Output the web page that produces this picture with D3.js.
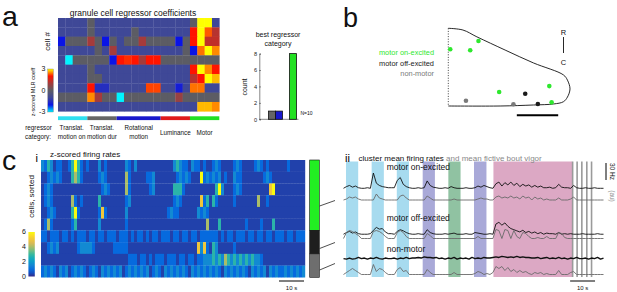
<!DOCTYPE html>
<html>
<head>
<meta charset="utf-8">
<script src="https://cdn.jsdelivr.net/npm/d3@7"></script>
<style>
body { margin: 0; background: #fff; }
svg { display: block; font-family: "Liberation Sans", Arial, sans-serif; }
</style>
</head>
<body>
<svg id="fig" width="617" height="292"></svg>
<script>
// ---------- panel a data ----------
const regCategories = ["Translat. motion on", "Translat. motion dur", "Rotational motion", "Luminance", "Motor"];
const regPerCategory = [4, 4, 6, 4, 4];
const bestCategoryCount = [0, 1, 1, 0, 8];
// z-scored MLR coefficients, one row per cell, 22 regressors
const coefRows = [
  [-1,-1,-1,-1,0,-1,-1,-1,-1,-1,-1,-1,-1,-1,-1,-1,-1,-1,0,3,3,-1],
  [-1,-1,-1,-1,0,-1,-1,-1,-1,-1,0,-1,-1,-1,-1,-1,-1,-1,2,3,2.3,1.2],
  [-2,0,0,0,1,0,-2,0,-1,0,0,1,0,0,0,0,-2,0,2,3,1.3,1.3],
  [-1,-1,-1,-1,-1,0,-1,1,-1,-1,-1,-1,-1,-1,-1,-1,-1,0,-2,2.4,3,2.5],
  [-1,-3,0,0,0,0,0,-2,2,2.1,2,1,2,2,0,0,0,0,0,0,0,0],
  [-1,-1,-1,-1,0,-1,-1,-1,-1,-1,-1,-1,-1,-1,-1,-1,-1,-1,2,3,2.5,2],
  [-1,-1,-1,-1,0,0,-1,-1,-1,-1,-1,-1,-1,-1,-1,-1,-1,-1,1.2,2,3,2.7],
  [-1,-1,-1,-1,2,-1.5,-1.5,-1,-1,-1,-1,-1,2.2,2.2,-1,-1,-1.8,-1,2.4,2.4,-1,-1],
  [0,0,0,0,2.5,1,0,0,-3,0,0,0,0,0,0,0,0.8,0,0,0,0,0],
  [-1,-1,-1,-1,-1,-1,-1,-1,-1,-1,-1,-1,-1,-1,-1,-1,-1,-1,-1,2.7,2.7,2.5]
];

// ---------- panel b data ----------
const clusterNames = ["motor on-excited", "motor off-excited", "non-motor"];
const clusterSizes = [6, 2, 2];
// outline of the cerebellum region (relative units), and cell positions
const outline = [[0,0],[12,2.2],[23.5,11],[46.7,28],[70,44.6],[94.6,60],[97.9,66.7],[100,78],[97.9,88.5],[94.6,94.5],[86.5,97.4],[70,98.7],[42.6,100],[0,100]];
const cellX = [1.6, 18, 24.8, 41.8, 83, 84.9, 63.2, 73.6, 14.5, 53.5];
const cellY = [26.9, 28.2, 16.3, 82, 74.4, 95.3, 84.2, 97.4, 93.2, 97.8];
const cellCluster = [0, 0, 0, 0, 0, 0, 1, 1, 2, 2];
const scaleBarLen = 34;

// ---------- panel c i data: z-scored rates, 1.2 s bins ----------
const binSec = 1.2;
// level code -> z-score
const rateLevels = [0.3, 0.9, 1.6, 2.8, 4, 5, 6];
const rateRows = [
  "21320110 01363101 00020100 00002102 00000000 00002321 10211010 01210000 12100001 21010000 00100000",
  "00121210 00343100 00012100 00004100 00011200 00000121 21000612 12120100 21100000 00121000 00000000",
  "01210000 00000000 00001210 00004100 00001200 00003331 00000000 00362000 12100000 00005600 00000000",
  "01210000 00410100 00030000 00001200 00000000 00001210 00000513 03100000 10000000 40010000 00000000",
  "00121000 00361000 00015100 00002000 00000000 00121100 00002121 00000000 00000000 00000000 00000000",
  "01410000 00130000 00020000 00001000 00000000 00000000 00000004 00030000 00001000 01000300 00000000",
  "11011101 10101110 11011011 10111010 11010110 11101101 10110111 11101011 01110110 11011011 10110111",
  "00121200 00001222 21000000 11111000 00000000 00000000 00005251 03200000 10000000 00000000 00000000",
  "00000000 00000000 00000000 00000111 01101011 10111011 01101122 23232432 32323232 21000000 00000000",
  "12121021 20121210 12102121 21201212 12120121 02121212 10212121 21210212 12121021 21202121 12121212"
];

// ---------- panel c ii data ----------
// firing rates (Hz, base36 chars) and fictive vigor (au) per 1.2 s bin
const onRate   = "36857433 43uc8654 44hma643 3434g854 33436433 34334758 643be7d9 e8c6a795 85744534 a5443843 34334333";
const onVigor  = "01323100 00062100 00045200 00004200 00000100 00000121 10034232 42314230 31201000 20001300 00000000";
const offRate  = "47968544 45bgde85 549ca754 4544c754 44545644 45447654 454mpkoi eca8b796 85746554 74545444 54444544";
const offVigor = "06875300 00787520 00686200 00005300 00000000 00000200 00098098 08206520 01002000 65100000 00000000";
const nonRate  = "65756867 57686576 67576867 78798878 67576857 67586768 77898a98 98a89887 78678676 86757686 67576857";
const nonVigor = "02464200 00a36520 00573400 00005200 00000200 00001320 10286847 35242310 21201000 40002300 00000000";
// stimulus epochs (s)
const epochStart = [1.6, 11.9, 22.0, 32.4, 42.7, 53.0];
const epochEnd   = [6.5, 16.8, 26.9, 37.3, 47.6, 58.0];
const epochType  = ["trans", "trans", "trans", "rot", "lum", "rot"];
const blockStart = 60.8, blockEnd = 92.4;
const flashTimes = [92.6, 94.4, 96.3, 98.3, 100.2];

const parse = s => s.replace(/ /g, "").split("").map(c => parseInt(c, 36));

const svg = d3.select("#fig");
const FONT = "Liberation Sans, Arial, sans-serif";

function label(x, y, txt, size, opts = {}) {
  const t = svg.append("text")
    .attr("x", x).attr("y", y)
    .attr("font-size", size)
    .attr("fill", opts.fill || "#111")
    .attr("text-anchor", opts.anchor || "start")
    .text(txt);
  if (opts.rotate) t.attr("transform", `rotate(${opts.rotate},${x},${y})`);
  return t;
}

const defs = svg.append("defs");

// ============ panel a ============
label(2, 26, "a", 28.5);
label(133, 16, "granule cell regressor coefficients", 8.5, {anchor: "middle"});
label(49.5, 41.5, "cell #", 8, {anchor: "middle", rotate: -90});

const nReg = d3.sum(regPerCategory);
const ax = d3.scaleBand().domain(d3.range(nReg)).range([58, 219.3]);
const ay = d3.scaleBand().domain(d3.range(coefRows.length)).range([18, 111.3]);
const coefColor = d3.scaleLinear()
  .domain([-3, -2, -1, 0, 1, 2, 3])
  .range(["#00f4ff", "#0a14e6", "#3f4897", "#5c5c64", "#a53b3b", "#ff1400", "#ffff00"]);

svg.append("g")
  .selectAll("g")
  .data(coefRows)
  .join("g")
  .each(function (row, r) {
    d3.select(this).selectAll("rect")
      .data(row)
      .join("rect")
        .attr("x", (d, i) => ax(i))
        .attr("y", ay(r))
        .attr("width", ax.bandwidth() + 0.3)
        .attr("height", ay.bandwidth() + 0.3)
        .attr("fill", d => coefColor(d));
  });

// category bar under heatmap
const catColors = ["#2ee0f0", "#666666", "#1818cc", "#e01a1a", "#22e022"];
const catStart = d3.cumsum([0, ...regPerCategory]);
svg.append("g")
  .selectAll("rect")
  .data(regCategories)
  .join("rect")
    .attr("x", (d, i) => ax(catStart[i]))
    .attr("y", 116.3)
    .attr("width", (d, i) => ax.step() * regPerCategory[i])
    .attr("height", 3.8)
    .attr("fill", (d, i) => catColors[i]);

const catLabelLines = [["Translat.", "motion on"], ["Translat.", "motion dur"], ["Rotational", "motion"], ["Luminance"], ["Motor"]];
catLabelLines.forEach((lines, i) => {
  const cx = ax(catStart[i]) + ax.step() * regPerCategory[i] / 2 + (i === 0 ? -1 : 0);
  lines.forEach((ln, k) => {
    const y = lines.length === 1 ? 134.5 : 130 + k * 8.6;
    label(cx, y, ln, 6.3, {anchor: "middle"});
  });
});
label(38.5, 130, "regressor", 6.3, {anchor: "middle"});
label(38, 138.6, "category:", 6.3, {anchor: "middle"});

// colorbar a
const gradA = defs.append("linearGradient").attr("id", "gradA")
  .attr("x1", 0).attr("y1", 1).attr("x2", 0).attr("y2", 0);
d3.range(-3, 3.01, 0.25).forEach(v => {
  gradA.append("stop").attr("offset", (v + 3) / 6).attr("stop-color", coefColor(v));
});
const cbA = d3.scaleLinear().domain([-3, 3]).range([112, 69]);
svg.append("rect").attr("x", 47.8).attr("y", cbA(3)).attr("width", 5.5)
  .attr("height", cbA(-3) - cbA(3)).attr("fill", "url(#gradA)")
  .attr("stroke", "#555").attr("stroke-width", 0.3);
[3, 0, -3].forEach(v => label(45.3, cbA(v) + 2.2, v, 7, {anchor: "end"}));
label(34.5, 92, "z-scored MLR coeff", 5.6, {anchor: "middle", rotate: -90});

// best regressor bar chart
label(278, 36.5, "best regressor", 7, {anchor: "middle"});
label(278, 45.5, "category", 7, {anchor: "middle"});
const bx = d3.scaleBand().domain(regCategories).range([261.5, 296.5]).padding(0);
const by = d3.scaleLinear().domain([0, 8]).range([119.3, 53.6]);
const yAx = svg.append("g").attr("transform", "translate(259.3,0)")
  .call(d3.axisLeft(by).tickValues([0, 2, 4, 6, 8]).tickSize(-1.6).tickPadding(2.2));
yAx.selectAll("text").attr("font-size", 5.6).attr("font-family", FONT).attr("fill", "#222");
yAx.selectAll("line,path").attr("stroke", "#333").attr("stroke-width", 0.6);
svg.append("line").attr("x1", 259.3).attr("x2", bx.range()[1] + 2)
  .attr("y1", by(0)).attr("y2", by(0)).attr("stroke", "#333").attr("stroke-width", 0.6);
svg.append("g").selectAll("rect")
  .data(regCategories.filter((d, i) => bestCategoryCount[i] > 0))
  .join("rect")
    .attr("x", d => bx(d))
    .attr("y", d => by(bestCategoryCount[regCategories.indexOf(d)]))
    .attr("width", bx.bandwidth())
    .attr("height", d => by(0) - by(bestCategoryCount[regCategories.indexOf(d)]))
    .attr("fill", d => catColors[regCategories.indexOf(d)])
    .attr("stroke", "#111").attr("stroke-width", 0.8);
label(246.5, 87, "count", 7, {anchor: "middle", rotate: -90});
label(300.5, 114.5, "N=10", 5);

// ============ panel b ============
label(343, 27, "b", 27);
const clusterColors = ["#2ee82e", "#1a1a1a", "#7a7a7a"];
clusterNames.forEach((nm, i) => label(434, 55 + i * 10.6, nm, 7.4, {anchor: "end", fill: clusterColors[i]}));
const bX = d3.scaleLinear().domain([0, 100]).range([448.3, 570]);
const bY = d3.scaleLinear().domain([0, 100]).range([28.3, 106]);
svg.append("path")
  .attr("d", d3.line().x(d => bX(d[0])).y(d => bY(d[1])).curve(d3.curveCatmullRom)(outline))
  .attr("fill", "none").attr("stroke", "#111").attr("stroke-width", 0.9);
svg.append("line").attr("x1", bX(0)).attr("x2", bX(0)).attr("y1", bY(0)).attr("y2", bY(100))
  .attr("stroke", "#111").attr("stroke-width", 0.8).attr("stroke-dasharray", "1,1.6");
svg.append("g").selectAll("circle")
  .data(d3.range(cellX.length))
  .join("circle")
    .attr("cx", i => bX(cellX[i]))
    .attr("cy", i => bY(cellY[i]))
    .attr("r", 2.3)
    .attr("fill", i => clusterColors[cellCluster[i]]);
svg.append("line").attr("x1", bX(56.3)).attr("x2", bX(56.3 + scaleBarLen))
  .attr("y1", 115.3).attr("y2", 115.3).attr("stroke", "#000").attr("stroke-width", 2);
label(563.5, 35, "R", 7.5, {anchor: "middle"});
svg.append("line").attr("x1", 563.5).attr("x2", 563.5).attr("y1", 37).attr("y2", 53)
  .attr("stroke", "#111").attr("stroke-width", 0.9);
label(563.5, 64.5, "C", 7.5, {anchor: "middle"});

// ============ panel c i ============
label(2, 170, "c", 28.5);
label(35.5, 161.5, "i", 11, {fill: "#000"});
label(50, 157.3, "z-scored firing rates", 8);
label(34.2, 196.5, "cells, sorted", 8, {anchor: "middle", rotate: -90});

const rates = rateRows.map(s => parse(s).map(c => rateLevels[c]));
const nBins = rates[0].length;
const cx1 = d3.scaleLinear().domain([0, nBins * binSec]).range([41, 305]);
const cy1 = d3.scaleBand().domain(d3.range(rates.length)).range([160, 277.3]);
const parula = d3.scaleLinear()
  .domain([0, 0.75, 1.5, 2.25, 3, 3.75, 4.5, 5.25, 6])
  .range(["#352a87", "#0363e1", "#1485d4", "#06a7c6", "#38b99e", "#92bf73", "#d9ba56", "#fcce2e", "#f9fb0e"])
  .clamp(true);
svg.append("g")
  .selectAll("g")
  .data(rates)
  .join("g")
  .each(function (row, r) {
    d3.select(this).selectAll("rect")
      .data(row)
      .join("rect")
        .attr("x", (d, i) => cx1(i * binSec))
        .attr("y", cy1(r))
        .attr("width", cx1(binSec) - cx1(0) + 0.2)
        .attr("height", cy1.bandwidth() + 0.2)
        .attr("fill", d => parula(d));
  });

// colorbar c
const gradC = defs.append("linearGradient").attr("id", "gradC")
  .attr("x1", 0).attr("y1", 1).attr("x2", 0).attr("y2", 0);
d3.range(0, 6.01, 0.5).forEach(v => gradC.append("stop").attr("offset", v / 6).attr("stop-color", parula(v)));
const cbC = d3.scaleLinear().domain([0, 6]).range([276.5, 232]);
svg.append("rect").attr("x", 28.4).attr("y", cbC(6)).attr("width", 6.4)
  .attr("height", cbC(0) - cbC(6)).attr("fill", "url(#gradC)");
[0, 2, 4, 6].forEach(v => label(26, cbC(v) + 2.4, v, 7, {anchor: "end"}));

// time scale bar c i
svg.append("line").attr("x1", cx1(nBins * binSec - 10) - 1).attr("x2", cx1(nBins * binSec) - 1)
  .attr("y1", 281).attr("y2", 281).attr("stroke", "#000").attr("stroke-width", 1);
label(cx1(nBins * binSec - 5) - 1, 290, "10 s", 6, {anchor: "middle"});

// cluster bar
const clusterStart = d3.cumsum([0, ...clusterSizes]);
const clusterFill = ["#22ee22", "#1e1e1e", "#6e6e6e"];
svg.append("g").selectAll("rect")
  .data(clusterSizes)
  .join("rect")
    .attr("x", 309.7)
    .attr("y", (d, i) => cy1(clusterStart[i]))
    .attr("width", 9.6)
    .attr("height", d => cy1.step() * d)
    .attr("fill", (d, i) => clusterFill[i])
    .attr("stroke", "#111").attr("stroke-width", 0.6);

// ============ panel c ii ============
const tx = d3.scaleLinear().domain([0, nBins * binSec]).range([342, 605]);
const epochColors = {trans: "#a7dbef", rot: "#a9a9d8", lum: "#90c2a2"};
const bandTop = 161.5, bandBot = 277;
svg.append("g").selectAll("rect")
  .data(epochStart)
  .join("rect")
    .attr("x", d => tx(d))
    .attr("y", bandTop)
    .attr("width", (d, i) => tx(epochEnd[i]) - tx(d))
    .attr("height", bandBot - bandTop)
    .attr("fill", (d, i) => epochColors[epochType[i]]);
svg.append("rect").attr("x", tx(blockStart)).attr("y", bandTop)
  .attr("width", tx(blockEnd) - tx(blockStart)).attr("height", bandBot - bandTop)
  .attr("fill", "#dca8c4");
svg.append("g").selectAll("line")
  .data(flashTimes)
  .join("line")
    .attr("x1", d => tx(d)).attr("x2", d => tx(d))
    .attr("y1", bandTop).attr("y2", bandBot)
    .attr("stroke", "#9a9a9a").attr("stroke-width", 1.6);

label(345, 162, "ii", 11, {fill: "#000"});
const title2 = svg.append("text").attr("x", 358.5).attr("y", 161).attr("font-size", 8).attr("fill", "#111");
title2.append("tspan").text("cluster mean firing rates ");
title2.append("tspan").attr("fill", "#888").text("and mean fictive bout vigor");

const traces = [
  {vals: parse(onRate),   y0: 190,   k: 17 / 30, color: "#111", w: 0.9},
  {vals: parse(onVigor),  y0: 200,   k: 1,       color: "#6a6a6a", w: 0.9},
  {vals: parse(offRate),  y0: 236.5, k: 17 / 30, color: "#111", w: 0.9},
  {vals: parse(offVigor), y0: 238.5, k: 1,       color: "#6a6a6a", w: 0.9},
  {vals: parse(nonRate),  y0: 262,   k: 17 / 30, color: "#111", w: 1.4},
  {vals: parse(nonVigor), y0: 274.5, k: 1,       color: "#6a6a6a", w: 0.9}
];
traces.forEach(tr => {
  const ys = d3.scaleLinear().domain([0, 1]).range([tr.y0, tr.y0 - tr.k]);
  svg.append("path")
    .attr("d", d3.line().x((d, i) => tx((i + 0.5) * binSec)).y(d => ys(d))(tr.vals))
    .attr("fill", "none").attr("stroke", tr.color).attr("stroke-width", tr.w)
    .attr("stroke-linejoin", "round");
});
const traceLabelY = [170, 221, 252];
clusterNames.forEach((nm, i) => label(386.7, traceLabelY[i], nm, 8.5));

// connectors from cluster bar to traces
[0, 2, 4].forEach((ti, i) => {
  const base = traces[ti].y0;
  svg.append("line").attr("x1", 319.6).attr("y1", base + 16 - i * 4)
    .attr("x2", 335).attr("y2", base + 10.5 - i * 4.5)
    .attr("stroke", "#222").attr("stroke-width", 0.8);
});

// scale bars c ii
svg.append("line").attr("x1", 606).attr("x2", 606).attr("y1", 163).attr("y2", 180)
  .attr("stroke", "#000").attr("stroke-width", 1);
label(610, 171.5, "30 Hz", 6.5, {anchor: "middle", rotate: 90});
label(610, 196, "(au)", 6.5, {anchor: "middle", rotate: 90, fill: "#888"});
svg.append("line").attr("x1", tx(nBins * binSec - 14)).attr("x2", tx(nBins * binSec - 4))
  .attr("y1", 281).attr("y2", 281).attr("stroke", "#000").attr("stroke-width", 1);
label(tx(nBins * binSec - 9), 290, "10 s", 6, {anchor: "middle"});
</script>
</body>
</html>
